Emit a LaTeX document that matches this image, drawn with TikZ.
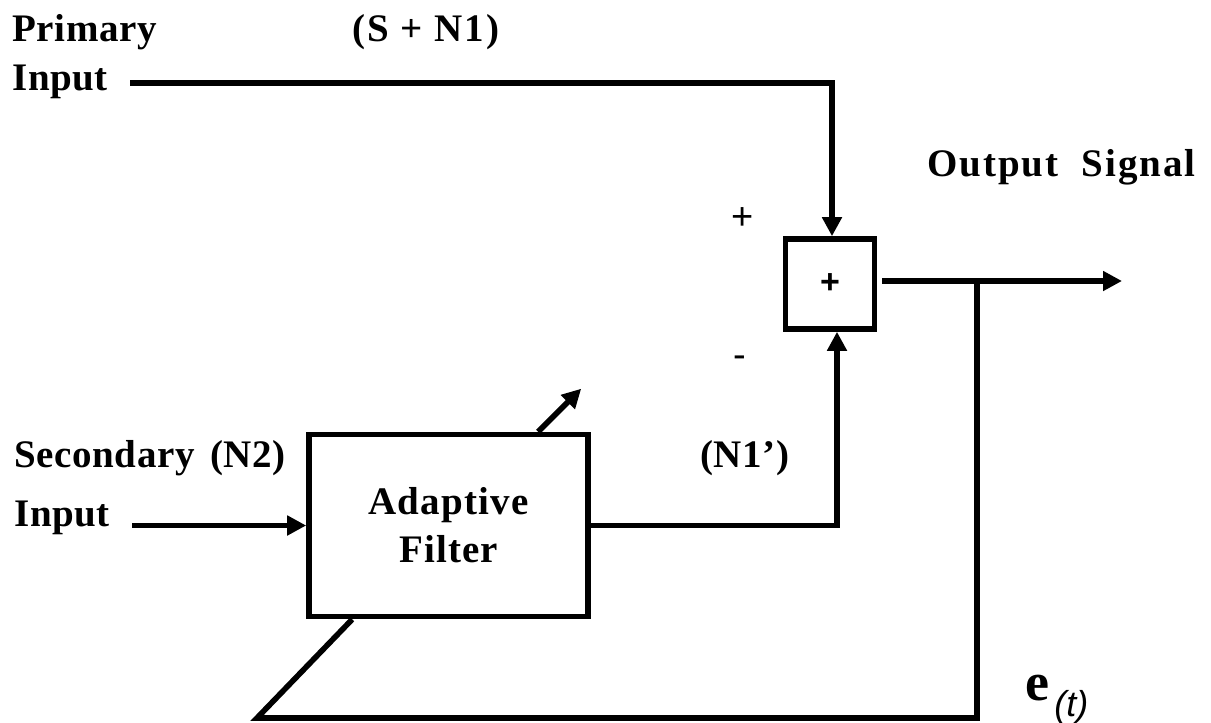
\documentclass[tikz,border=0pt]{standalone}
\usepackage{fontspec}
\setmainfont{Liberation Serif}
\newfontfamily\hvfont{Liberation Sans}
\usetikzlibrary{arrows.meta}

\begin{document}
\begin{tikzpicture}[x=0.5pt,y=-0.5pt,>={Triangle[length=9.5pt,width=9.5pt]},
  sig/.style={line width=2.8pt},
  lbl/.style={inner sep=0pt,anchor=west,font=\fontsize{19.5}{23}\selectfont\bfseries\addfontfeature{LetterSpace=1.5}},
  sgn/.style={inner sep=0pt,font=\hvfont\fontsize{19}{22}\selectfont},
  blk/.style={draw,line width=2.8pt,inner sep=0pt,align=center}]
\useasboundingbox (0,0) rectangle (1211,723);
% labels
\node[lbl] (prim) at (12,32) {Primary};
\node[lbl] (pin) at (12,82) {Input};
\node[lbl,font=\fontsize{19.5}{23}\selectfont\bfseries\addfontfeature{LetterSpace=5}] (sn1) at (352,32) {(S + N1)};
\node[lbl,font=\fontsize{19.5}{23}\selectfont\bfseries\addfontfeature{LetterSpace=5}] (outsig) at (927,167) {Output \ Signal};
\node[lbl] (sec) at (14,458) {Secondary};
\node[lbl] (n2) at (210,458) {(N2)};
\node[lbl] (sin) at (14,518) {Input};
\node[lbl] (n1p) at (700,458) {(N1’)};
\node[sgn] (plus) at (743,219) {+};
\node[sgn] (minus) at (740,362) {-};
\node[inner sep=0pt,font=\fontsize{27}{29}\selectfont\bfseries] (e) at (1037,688) {e};
\node[inner sep=0pt,anchor=west,font=\hvfont\itshape\fontsize{18}{20}\selectfont] (esub) at (1054,707) {(t)};
% blocks
\node[blk,minimum width=44.5pt,minimum height=45pt,font=\hvfont\bfseries\fontsize{17}{20}\selectfont] (sum) at (830,284) {+};
\node[blk,minimum width=139.5pt,minimum height=91pt,font=\fontsize{19.5}{24}\selectfont\bfseries\addfontfeature{LetterSpace=3}] (filt) at (448.5,525.5) {\rule{0pt}{12pt}Adaptive\\Filter};
\coordinate (pstart) at (130,83);
\coordinate (sstart) at (132,525.5);
\coordinate (out) at (1122,281);
\coordinate (tap) at (977,281);
\coordinate (fb) at (257,718);
% connectors
\draw[sig,->] (pstart) -| ([xshift=1pt]sum.north);
\draw[sig,->] (sstart) -- (filt.west);
\draw[sig,->] (filt.east) -| ([xshift=3.5pt]sum.south);
\draw[sig,->] ([xshift=2.5pt]sum.east |- out) -- (out);
\draw[sig] (tap) |- (fb) -- ([xshift=23pt]filt.south west);
\draw[sig,->] ([xshift=116pt]filt.north west) -- ++(43,-43);
\end{tikzpicture}
\end{document}
